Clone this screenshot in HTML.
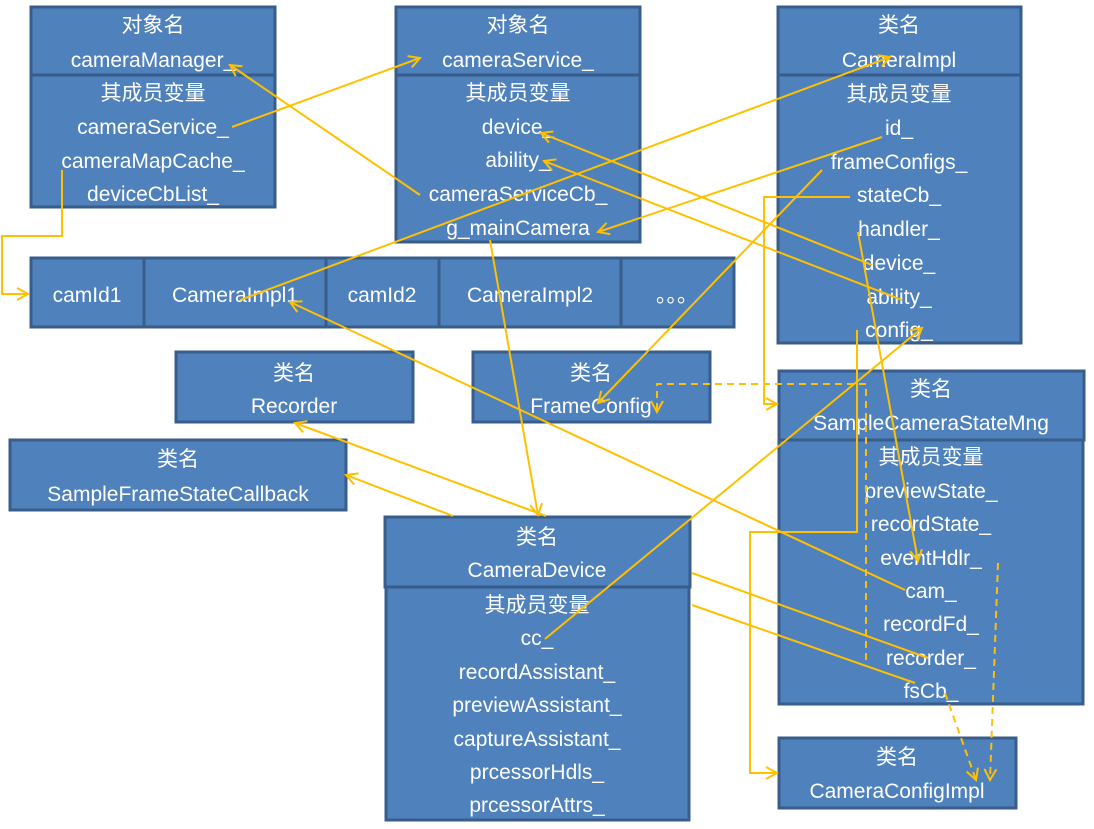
<!DOCTYPE html>
<html><head><meta charset="utf-8"><style>
html,body{margin:0;padding:0;background:#fff;}
svg{display:block;}
text{font-family:"Liberation Sans","Noto Sans CJK SC",sans-serif;font-size:21px;fill:#fff;text-anchor:middle;}
.b{fill:#4f81bd;stroke:#385d8a;stroke-width:3;}
.l{stroke:#ffc000;stroke-width:2;fill:none;}
.d{stroke:#ffc000;stroke-width:2;fill:none;stroke-dasharray:7 5;}
</style></head><body>
<svg width="1094" height="829" viewBox="0 0 1094 829" xmlns="http://www.w3.org/2000/svg">
<defs>
<marker id="a" markerWidth="14" markerHeight="14" refX="12" refY="7" orient="auto" markerUnits="userSpaceOnUse">
<path d="M1,1 L12,7 L1,13" fill="none" stroke="#ffc000" stroke-width="2"/></marker>
</defs>
<!-- boxes -->
<rect class="b" x="31" y="7" width="244" height="68"/><rect class="b" x="31" y="75" width="244" height="132"/>
<rect class="b" x="396" y="7" width="244" height="68"/><rect class="b" x="396" y="75" width="244" height="167"/>
<rect class="b" x="778" y="7" width="243" height="68"/><rect class="b" x="778" y="75" width="243" height="268"/>
<rect class="b" x="31" y="258" width="113" height="69"/><rect class="b" x="144" y="258" width="182" height="69"/>
<rect class="b" x="326" y="258" width="113" height="69"/><rect class="b" x="439" y="258" width="182" height="69"/>
<rect class="b" x="621" y="258" width="113" height="69"/>
<rect class="b" x="176" y="352" width="237" height="70"/>
<rect class="b" x="473" y="352" width="237" height="70"/>
<rect class="b" x="10" y="440" width="336" height="70"/>
<rect class="b" x="385" y="517" width="305" height="70"/><rect class="b" x="386" y="587" width="303" height="233"/>
<rect class="b" x="779" y="371" width="305" height="69"/><rect class="b" x="779" y="440" width="304" height="264"/>
<rect class="b" x="779" y="738" width="237" height="70"/>
<!-- text -->
<g>
<text x="153" y="32">对象名</text><text x="153" y="67">cameraManager_</text><text x="153" y="100">其成员变量</text>
<text x="153" y="134">cameraService_</text><text x="153" y="168">cameraMapCache_</text><text x="153" y="201">deviceCbList_</text>
<text x="518" y="32">对象名</text><text x="518" y="67">cameraService_</text><text x="518" y="100">其成员变量</text>
<text x="518" y="134">device_</text><text x="518" y="167">ability_</text><text x="518" y="201">cameraServiceCb_</text><text x="518" y="235">g_mainCamera</text>
<text x="899" y="32">类名</text><text x="899" y="67">CameraImpl</text><text x="899" y="101">其成员变量</text>
<text x="899" y="135">id_</text><text x="899" y="169">frameConfigs_</text><text x="899" y="202">stateCb_</text><text x="899" y="236">handler_</text>
<text x="899" y="270">device_</text><text x="899" y="304">ability_</text><text x="899" y="337">config_</text>
<text x="87" y="302">camId1</text><text x="235" y="302">CameraImpl1</text><text x="382" y="302">camId2</text><text x="530" y="302">CameraImpl2</text><text x="677" y="302">。。。</text>
<text x="294" y="380">类名</text><text x="294" y="413">Recorder</text>
<text x="591" y="380">类名</text><text x="591" y="413">FrameConfig</text>
<text x="178" y="466">类名</text><text x="178" y="501">SampleFrameStateCallback</text>
<text x="537" y="544">类名</text><text x="537" y="577">CameraDevice</text><text x="537" y="612">其成员变量</text>
<text x="537" y="645">cc_</text><text x="537" y="679">recordAssistant_</text><text x="537" y="712">previewAssistant_</text>
<text x="537" y="746">captureAssistant_</text><text x="537" y="779">prcessorHdls_</text><text x="537" y="812">prcessorAttrs_</text>
<text x="931" y="396">类名</text><text x="931" y="430">SampleCameraStateMng</text><text x="931" y="464">其成员变量</text>
<text x="931" y="498">previewState_</text><text x="931" y="531">recordState_</text><text x="931" y="565">eventHdlr_</text>
<text x="931" y="598">cam_</text><text x="931" y="631">recordFd_</text><text x="931" y="665">recorder_</text><text x="931" y="698">fsCb_</text>
<text x="897" y="764">类名</text><text x="897" y="798">CameraConfigImpl</text>
</g>
<!-- connectors -->
<line class="l" x1="232" y1="127" x2="420" y2="58" marker-end="url(#a)"/>
<line class="l" x1="420" y1="195" x2="230" y2="65" marker-end="url(#a)"/>
<polyline class="l" points="62,170 62,236 2,236 2,294 28,294" marker-end="url(#a)"/>
<line class="l" x1="240" y1="300" x2="890" y2="57" marker-end="url(#a)"/>
<line class="l" x1="882" y1="137" x2="598" y2="232" marker-end="url(#a)"/>
<line class="l" x1="822" y1="170" x2="598" y2="403" marker-end="url(#a)"/>
<polyline class="l" points="850,197 764,197 764,404 777,404" marker-end="url(#a)"/>
<line class="l" x1="872" y1="265" x2="541" y2="133" marker-end="url(#a)"/>
<line class="l" x1="902" y1="300" x2="544" y2="161" marker-end="url(#a)"/>
<line class="l" x1="858" y1="232" x2="918" y2="561" marker-end="url(#a)"/>
<line class="l" x1="545" y1="639" x2="922" y2="328" marker-end="url(#a)"/>
<line class="l" x1="490" y1="240" x2="538" y2="515" marker-end="url(#a)"/>
<polyline class="l" points="857,330 857,532 750,532 750,773 777,773" marker-end="url(#a)"/>
<polyline class="d" points="866,660 866,384 657,384 657,412" marker-end="url(#a)"/>
<polyline class="d" points="998,563 990,780" marker-end="url(#a)"/>
<line class="d" x1="945" y1="693" x2="976" y2="780" marker-end="url(#a)"/>
<line class="l" x1="905" y1="590" x2="290" y2="302" marker-end="url(#a)"/>
<line class="l" x1="692" y1="573" x2="928" y2="658" />
<line class="l" x1="692" y1="605" x2="915" y2="683" />
<line class="l" x1="546" y1="516" x2="295" y2="423" marker-end="url(#a)"/>
<line class="l" x1="453" y1="516" x2="346" y2="475" marker-end="url(#a)"/>
</svg>
</body></html>
